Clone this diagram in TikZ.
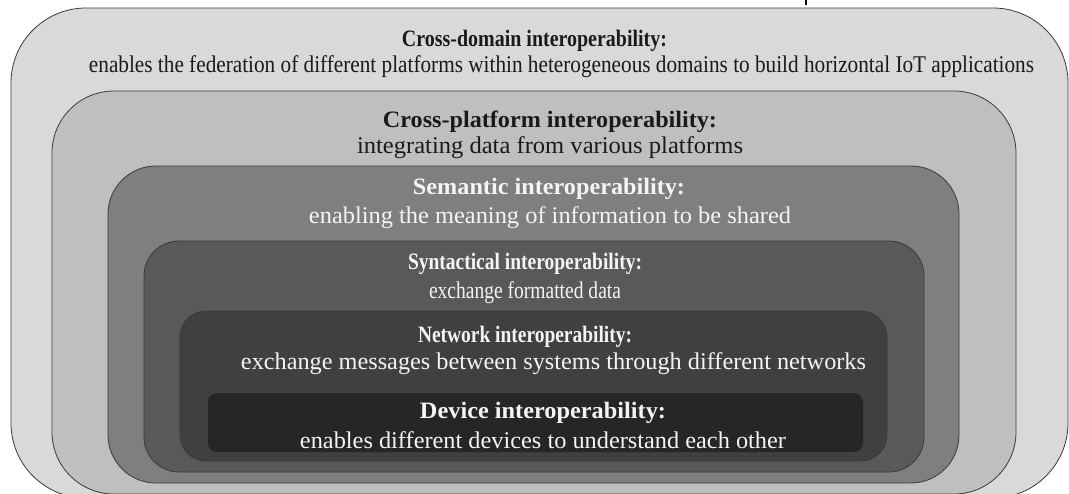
\documentclass[tikz,border=0pt]{standalone}
\usepackage{fontspec}
\setmainfont{Liberation Serif}
\usepackage{graphicx}
\newcommand\fitline[2]{\resizebox{#1pt}{\height}{#2}}
\definecolor{edge}{HTML}{3A3A3A}
\definecolor{c1}{HTML}{D9D9D9}
\definecolor{c2}{HTML}{BFBFBF}
\definecolor{c3}{HTML}{7F7F7F}
\definecolor{c4}{HTML}{595959}
\definecolor{c5}{HTML}{404040}
\definecolor{c6}{HTML}{262626}
\definecolor{darktxt}{HTML}{1A1A1A}
\definecolor{lighttxt}{HTML}{F4F4F4}
\begin{document}
\begin{tikzpicture}[x=1pt,y=-1pt,
  layer/.style={draw=edge,line width=0.8pt},
  ttl/.style={anchor=base,inner sep=0pt,font=\fontsize{23.5}{25}\selectfont\bfseries},
  sub/.style={anchor=base,inner sep=0pt,font=\fontsize{24}{26}\selectfont},
  dark/.style={text=darktxt},
  light/.style={text=lighttxt}]
\useasboundingbox (0,0) rectangle (1069,493);
\fill[white] (0,0) rectangle (1069,493);
% nested layers
\draw[layer,fill=c1,rounded corners=75pt] (11,8) rectangle (1068,498);
\draw[layer,fill=c2,rounded corners=62pt] (52,91) rectangle (1016,494);
\draw[layer,fill=c3,rounded corners=48pt] (108,166) rectangle (959,483);
\draw[layer,fill=c4,rounded corners=35pt] (144,241) rectangle (924,472);
\draw[layer,fill=c5,rounded corners=26pt] (180,311) rectangle (887,461);
\fill[c6,rounded corners=9pt] (208,393) rectangle (863,452);
% small mark at top
\draw[black,line width=1.5pt] (806,0) -- (806,5);
% texts
\node[ttl,dark] (t1) at (534.5,46) {\fitline{265}{Cross-domain interoperability:}};
\node[sub,dark] (s1) at (561.5,72) {\fitline{945}{enables the federation of different platforms within heterogeneous domains to build horizontal IoT applications}};
\node[ttl,dark] (t2) at (550,127) {\fitline{334}{Cross-platform interoperability:}};
\node[sub,dark] (s2) at (550,153) {\fitline{386}{integrating data from various platforms}};
\node[ttl,light] (t3) at (549,194) {\fitline{272}{Semantic interoperability:}};
\node[sub,light] (s3) at (550,223) {\fitline{482}{enabling the meaning of information to be shared}};
\node[ttl,light] (t4) at (525,269) {\fitline{234}{Syntactical interoperability:}};
\node[sub,light] (s4) at (525,298) {\fitline{192}{exchange formatted data}};
\node[ttl,light] (t5) at (525,342) {\fitline{214}{Network interoperability:}};
\node[sub,light] (s5) at (553.5,369) {\fitline{625}{exchange messages between systems through different networks}};
\node[ttl,light] (t6) at (543,418) {\fitline{246}{Device interoperability:}};
\node[sub,light] (s6) at (543,448) {\fitline{486}{enables different devices to understand each other}};
\end{tikzpicture}
\end{document}
